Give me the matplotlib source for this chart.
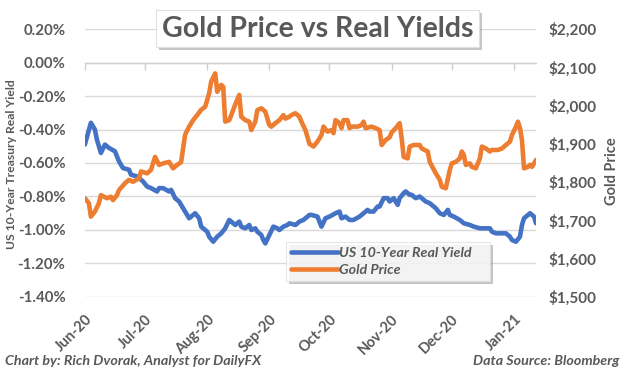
import matplotlib
matplotlib.use("Agg")
import matplotlib.pyplot as plt
import matplotlib.dates as mdates
import matplotlib.ticker as mticker
import matplotlib.patheffects as pe
import numpy as np
import pandas as pd

START = "2020-06-01"

# day offsets from 2020-06-01 and values
yield_days = [0, 3, 5, 6, 8, 10, 12, 15, 17, 19, 22, 23, 26, 29, 31, 33, 36, 37, 39, 42,
              43, 45, 47, 49, 51, 52, 55, 57, 58, 61, 62, 64, 66, 68, 70, 72, 73, 75, 77, 78,
              80, 82, 83, 85, 86, 88, 89, 90, 92, 94, 96, 97, 99, 101, 102, 105, 107, 109, 112, 113,
              116, 118, 120, 122, 125, 127, 128, 130, 132, 134, 137, 139, 141, 142, 144, 146, 147, 149, 151, 152,
              154, 156, 157, 159, 160, 162, 163, 165, 167, 168, 170, 172, 175, 177, 179, 181, 182, 184, 187, 189,
              192, 194, 197, 199, 202, 203, 205, 208, 210, 212, 213, 215, 217, 218, 219, 221, 222, 224, 225]
real_yield = [-0.49, -0.36, -0.40, -0.46, -0.54, -0.49, -0.51, -0.53, -0.59, -0.63, -0.64, -0.67, -0.68, -0.71, -0.74, -0.75, -0.77, -0.75, -0.75, -0.77,
              -0.76, -0.81, -0.83, -0.87, -0.91, -0.93, -0.90, -0.93, -0.98, -1.01, -1.04, -1.07, -1.04, -1.02, -0.99, -0.94, -0.95, -0.97, -0.95, -0.98,
              -0.99, -0.97, -1.00, -0.99, -1.01, -1.03, -1.06, -1.08, -1.03, -0.98, -0.99, -1.00, -0.98, -0.97, -0.96, -0.97, -0.95, -0.94, -0.91, -0.91,
              -0.92, -0.98, -0.93, -0.92, -0.90, -0.89, -0.93, -0.92, -0.94, -0.94, -0.92, -0.90, -0.88, -0.89, -0.89, -0.86, -0.86, -0.81, -0.81, -0.83,
              -0.81, -0.85, -0.81, -0.78, -0.77, -0.79, -0.79, -0.81, -0.80, -0.81, -0.83, -0.84, -0.87, -0.90, -0.91, -0.88, -0.91, -0.92, -0.94, -0.96,
              -0.97, -0.98, -0.99, -0.99, -0.99, -1.01, -1.02, -1.02, -1.02, -1.04, -1.06, -1.07, -1.04, -0.97, -0.93, -0.91, -0.90, -0.92, -0.96]

gold_days = [0, 2, 3, 5, 7, 8, 11, 13, 14, 16, 17, 20, 22, 24, 27, 28, 31, 33, 35, 37,
             39, 42, 44, 46, 48, 50, 52, 54, 56, 58, 60, 62, 63, 65, 66, 68, 69, 70, 72, 73,
             75, 77, 78, 80, 82, 83, 85, 86, 88, 90, 92, 93, 95, 97, 99, 100, 102, 103, 105, 107,
             108, 110, 112, 114, 116, 118, 119, 121, 123, 124, 125, 127, 128, 129, 131, 132, 133, 136, 138, 139,
             140, 143, 145, 147, 148, 150, 152, 153, 155, 157, 158, 159, 161, 162, 164, 167, 168, 171, 172, 175,
             177, 178, 180, 182, 183, 185, 187, 188, 189, 190, 192, 193, 195, 197, 198, 200, 202, 203, 206, 208,
             210, 212, 213, 215, 216, 217, 218, 219, 221, 222, 223, 225]
gold_price = [1758, 1745, 1710, 1723, 1745, 1766, 1758, 1762, 1753, 1766, 1779, 1797, 1806, 1801, 1810, 1828, 1823, 1832, 1866, 1845,
              1849, 1853, 1836, 1845, 1852, 1924, 1945, 1962, 1975, 1989, 1997, 2032, 2063, 2084, 2036, 2054, 2049, 1958, 1962, 1975,
              2003, 2028, 1971, 1962, 1958, 1936, 1958, 1988, 1993, 1984, 1949, 1945, 1954, 1962, 1975, 1966, 1971, 1975, 1980, 1971,
              1958, 1936, 1900, 1893, 1906, 1923, 1945, 1932, 1936, 1928, 1962, 1954, 1941, 1962, 1962, 1941, 1945, 1945, 1949, 1958,
              1941, 1945, 1941, 1936, 1897, 1910, 1917, 1930, 1941, 1954, 1914, 1866, 1862, 1893, 1897, 1897, 1888, 1880, 1853, 1823,
              1806, 1788, 1784, 1832, 1849, 1853, 1862, 1880, 1871, 1845, 1849, 1840, 1836, 1862, 1893, 1888, 1880, 1884, 1884, 1888,
              1897, 1906, 1923, 1945, 1958, 1941, 1910, 1836, 1840, 1845, 1840, 1858]

month_ticks = ["2020-06-01", "2020-07-01", "2020-08-01", "2020-09-01",
               "2020-10-01", "2020-11-01", "2020-12-01", "2021-01-01"]
yield_ticks = [0.2, 0.0, -0.2, -0.4, -0.6, -0.8, -1.0, -1.2, -1.4]
gold_ticks = [1500, 1600, 1700, 1800, 1900, 2000, 2100, 2200]

title = "Gold Price vs Real Yields"
left_label = "US 10-Year Treasury Real Yield"
right_label = "Gold Price"
series_names = ["US 10-Year Real Yield", "Gold Price"]
footer_left = "Chart by: Rich Dvorak, Analyst for DailyFX"
footer_right = "Data Source: Bloomberg"

BLUE = "#4472C4"
ORANGE = "#ED7D31"
GREY = "#595959"
GRID = "#D9D9D9"

plt.rcParams["font.family"] = ["Lato", "DejaVu Sans"]

start = pd.Timestamp(START)
ydates = start + pd.to_timedelta(yield_days, unit="D")
gdates = start + pd.to_timedelta(gold_days, unit="D")
mdates_list = pd.to_datetime(month_ticks)

fig = plt.figure(figsize=(6.24, 3.71), dpi=100)
ax = fig.add_axes([0.136, 0.1995, 0.723, 0.7223])
ax2 = ax.twinx()

ax.plot(ydates, real_yield, color=BLUE, lw=3.3, solid_capstyle="round", solid_joinstyle="round",
        label=series_names[0])
ax2.plot(gdates, gold_price, color=ORANGE, lw=3.3, solid_capstyle="round", solid_joinstyle="round",
         label=series_names[1])

ax.set_xlim(ydates[0], ydates[-1])
ax.set_ylim(min(yield_ticks), max(yield_ticks))
ax2.set_ylim(min(gold_ticks), max(gold_ticks))

ax.set_yticks(yield_ticks)
ax.yaxis.set_major_formatter(mticker.FuncFormatter(lambda v, p: f"{v:.2f}%"))
ax2.set_yticks(gold_ticks)
ax2.yaxis.set_major_formatter(mticker.FuncFormatter(lambda v, p: f"${v:,.0f}"))

ax.grid(axis="y", color=GRID, lw=1.0)
ax.set_axisbelow(True)
for a in (ax, ax2):
    for s in a.spines.values():
        s.set_visible(False)

# category axis crossing at 0.00%: spine + downward month ticks, no labels there
ax.spines["bottom"].set_visible(True)
ax.spines["bottom"].set_position(("data", 0))
ax.spines["bottom"].set_color("#CFCFCF")
ax.spines["bottom"].set_linewidth(1.0)
ax.set_xticks(mdates_list)
ax.tick_params(axis="x", direction="out", length=5, width=1, color="#CFCFCF",
               labelbottom=False)

# month labels at the bottom of the plot area
sec = ax.secondary_xaxis("bottom")
sec.set_xticks(mdates_list)
sec.xaxis.set_major_formatter(mdates.DateFormatter("%b-%y"))
sec.tick_params(axis="x", length=0, pad=11, labelsize=10.5, labelcolor=GREY)
for s in sec.spines.values():
    s.set_visible(False)
for lab in sec.get_xticklabels():
    lab.set_rotation(45)
    lab.set_ha("right")
    lab.set_rotation_mode("anchor")
    lab.set_fontweight("bold")

ax.tick_params(axis="y", length=0, pad=14, labelsize=10.8, labelcolor=GREY)
ax2.tick_params(axis="y", length=0, pad=9, labelsize=11, labelcolor=GREY)
for lab in ax.get_yticklabels() + ax2.get_yticklabels():
    lab.set_fontweight("bold")

fig.text(0.019, 0.558, left_label, rotation=90, ha="center", va="center",
         fontsize=8.7, fontweight="bold", color=GREY)
fig.text(0.981, 0.539, right_label, rotation=90, ha="center", va="center",
         fontsize=10.5, fontweight="bold", color=GREY)

t = fig.text(0.509, 0.923, title, ha="center", va="center", fontsize=20.5,
             fontweight="bold", color=GREY,
             bbox=dict(boxstyle="square,pad=0.2", fc="white", ec="#E0E0E0", lw=0.8))
t.get_bbox_patch().set_path_effects([
    pe.SimplePatchShadow(offset=(2, -2), shadow_rgbFace="#808080", alpha=0.45), pe.Normal()])

h1, l1 = ax.get_legend_handles_labels()
h2, l2 = ax2.get_legend_handles_labels()
leg = ax2.legend(h1 + h2, l1 + l2, loc="upper left", bbox_to_anchor=(0.458, 0.232, 0.327, 0.116),
                 bbox_transform=fig.transFigure, mode="expand", frameon=True, fancybox=False,
                 shadow=False, handlelength=3.3, handletextpad=0.1, borderpad=0.35,
                 labelspacing=0.35, borderaxespad=0,
                 prop=dict(size=10.3, weight="bold", style="italic"))
leg.get_frame().set_edgecolor("#E0E0E0")
leg.get_frame().set_linewidth(0.8)
leg.get_frame().set_path_effects([
    pe.SimplePatchShadow(offset=(2, -2), shadow_rgbFace="#808080", alpha=0.45), pe.Normal()])
for txt in leg.get_texts():
    txt.set_color(GREY)
leg.set_zorder(10)

fig.text(0.008, 0.027, footer_left, ha="left", va="center", fontsize=10.3,
         fontweight="bold", style="italic", color=GREY)
fig.text(0.993, 0.027, footer_right, ha="right", va="center", fontsize=10.3,
         fontweight="bold", style="italic", color=GREY)

fig.savefig("out.png", dpi=100)
